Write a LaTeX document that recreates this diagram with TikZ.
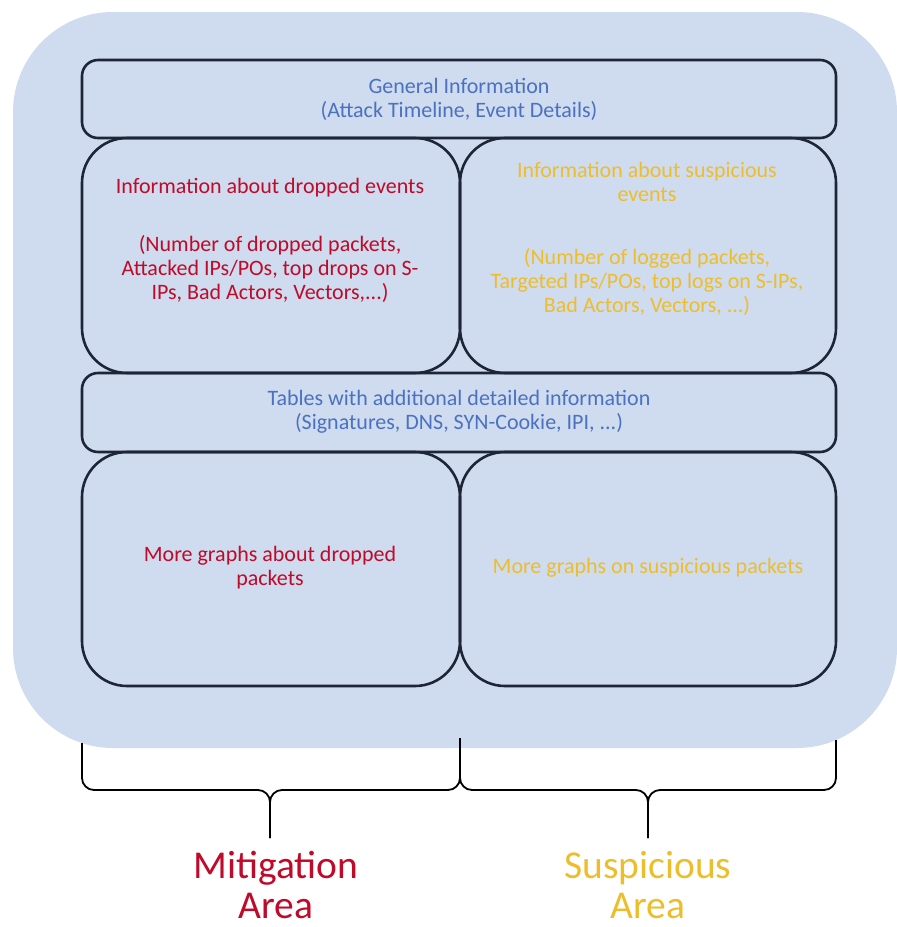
\documentclass[tikz,border=0pt]{standalone}
\usepackage{fontspec}
\setmainfont{Carlito}
\usetikzlibrary{calc}
\definecolor{bgblue}{HTML}{CFDBEE}
\definecolor{boxline}{HTML}{1C2637}
\definecolor{infoblue}{HTML}{4A72C0}
\definecolor{mitired}{HTML}{C00A2A}
\definecolor{suspgold}{HTML}{EDBE2C}
\tikzset{
	panel/.style={draw=boxline, line width=2.6pt, rounded corners=45pt},
	band/.style={draw=boxline, line width=2.6pt, rounded corners=16pt},
	txt/.style={align=center, font=\fontsize{22}{23.8}\selectfont},
	areatxt/.style={align=center, inner sep=0pt, font=\fontsize{39.5}{40.5}\selectfont},
	bracket/.style={draw=black, line width=1.8pt, rounded corners=12pt}
}
\begin{document}
\begin{tikzpicture}[x=1pt, y=-1pt]
	\useasboundingbox (0,0) rectangle (897,927);
	\path
	%	khung nen
	(13,12) coordinate (O1)
	(897,748) coordinate (O2)
	%	cac o
	(82,60) coordinate (A)
	(836,138) coordinate (B)
	(460,373) coordinate (M)
	(82,452) coordinate (T)
	(836,686) coordinate (D)
	;
	\fill[bgblue, rounded corners=100pt] (O1) rectangle (O2);
	\draw[band] (A) rectangle (B);
	\draw[panel] (A|-B) rectangle (M);
	\draw[panel] (M|-B) rectangle (D|-M);
	\draw[band] (A|-M) rectangle (T-|D);
	\draw[panel] (T) rectangle (M|-D);
	\draw[panel] (M|-T) rectangle (D);
	%	chu
	\node[txt, text=infoblue] (gen) at (459,99)
	{General Information\\(Attack Timeline, Event Details)};
	\node[txt, text=mitired] (drop) at (270,240)
	{Information about dropped events\\[34.5pt]
		(Number of dropped packets,\\Attacked IPs/POs, top drops on S-\\IPs, Bad Actors, Vectors,...)};
	\node[txt, text=suspgold] (susp) at (647,239)
	{Information about suspicious\\events\\[39.5pt]
		(Number of logged packets,\\Targeted IPs/POs, top logs on S-IPs,\\Bad Actors, Vectors, ...)};
	\node[txt, text=infoblue] (tab) at (459,411.5)
	{Tables with additional detailed information\\(Signatures, DNS, SYN-Cookie, IPI, ...)};
	\node[txt, text=mitired] (dropgr) at (270,568)
	{More graphs about dropped\\packets};
	\node[txt, text=suspgold] (suspgr) at (648,568)
	{More graphs on suspicious packets};
	%	ngoac
	\path
	(82,743) coordinate (L1)
	(460,738) coordinate (L2)
	(836,740) coordinate (L3)
	(270,838) coordinate (P1)
	(648,838) coordinate (P2)
	;
	\draw[bracket] (L1) |- ($(P1)+(0,-48)$) -- (P1);
	\draw[bracket] (L2) |- ($(P1)+(0,-48)$) -- (P1);
	\draw[bracket] (L2) |- ($(P2)+(0,-48)$) -- (P2);
	\draw[bracket] (L3) |- ($(P2)+(0,-48)$) -- (P2);
	\node[areatxt, text=mitired] (mit) at (276,885) {Mitigation\\Area};
	\node[areatxt, text=suspgold] (sus) at (648,885) {Suspicious\\Area};
\end{tikzpicture}
\end{document}
